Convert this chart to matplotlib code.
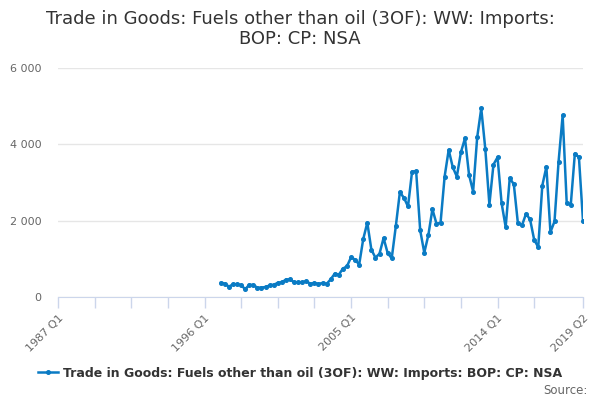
import numpy as np
import matplotlib
matplotlib.use('Agg')
import matplotlib.pyplot as plt

# quarters 1987 Q1 .. 2019 Q2
quarters = [f'{y} Q{q}' for y in range(1987, 2020) for q in range(1, 5)][:130]

# series starts at 1997 Q1 (values in £m)
first_quarter = '1997 Q1'
imports = [
    375, 357, 280, 340, 340, 320, 209, 330, 320, 253,
    253, 270, 310, 330, 375, 393, 462, 470, 393, 393,
    393, 420, 357, 375, 350, 375, 350, 470, 618, 590,
    750, 810, 1045, 985, 855, 1522, 1950, 1245, 1036, 1140,
    1548, 1156, 1018, 1853, 2746, 2600, 2373, 3286, 3294, 1747,
    1166, 1625, 2303, 1922, 1948, 3156, 3852, 3398, 3156, 3790,
    4155, 3200, 2764, 4181, 4937, 3868, 2425, 3469, 3659, 2460,
    1834, 3112, 2955, 1938, 1878, 2182, 2034, 1504, 1312, 2921,
    3408, 1704, 1982, 3547, 4755, 2460, 2425, 3756, 3659, 1990,
]

series_name = 'Trade in Goods: Fuels other than oil (3OF): WW: Imports: BOP: CP: NSA'
title = 'Trade in Goods: Fuels other than oil (3OF): WW: Imports:\nBOP: CP: NSA'
label_quarters = ['1987 Q1', '1996 Q1', '2005 Q1', '2014 Q1', '2019 Q2']
y_ticks = [0, 2000, 4000, 6000]

plt.rcParams['font.family'] = ['DejaVu Sans']
fig = plt.figure(figsize=(6, 4), dpi=100)
ax = fig.add_axes([58 / 600, 1 - 297.3 / 400, 525 / 600, (297.3 - 67.7) / 400])

start = quarters.index(first_quarter)
x = np.arange(start, start + len(imports))
line_col = '#0a7bc4'
ax.plot(x, imports, color=line_col, lw=1.8, marker='o', ms=2.6, label=series_name)

ax.set_xlim(0, len(quarters) - 1)
ax.set_ylim(0, 6000)

# x ticks every 9 quarters plus last
xt = list(range(0, 118, 9)) + [len(quarters) - 1]
ax.set_xticks(xt)
ax.set_xticklabels([quarters[i] if quarters[i] in label_quarters else '' for i in xt],
                   rotation=45, ha='right', rotation_mode='anchor', fontsize=8, color='#666666')
ax.tick_params(axis='x', length=8, color='#ccd6eb', width=1, pad=3)

ax.set_yticks(y_ticks)
ax.set_yticklabels([f'{v:,}'.replace(',', ' ') for v in y_ticks], fontsize=8, color='#666666')
ax.tick_params(axis='y', length=0, pad=12)
ax.grid(axis='y', color='#e6e6e6', lw=1)
ax.set_axisbelow(True)

for s in ['top', 'right', 'left']:
    ax.spines[s].set_visible(False)
ax.spines['bottom'].set_color('#ccd6eb')

fig.suptitle(title, y=0.975, fontsize=13, color='#333333', linespacing=1.15)

leg = fig.legend(loc='center', bbox_to_anchor=(0.5, 1 - 373 / 400), frameon=False,
                 prop={'weight': 'bold', 'size': 9}, handlelength=1.6, handletextpad=0.4)
for t in leg.get_texts():
    t.set_color('#333333')

fig.text(588 / 600, 1 - 390 / 400, 'Source:', ha='right', va='center', fontsize=8.5, color='#666666')

fig.savefig('out.png', dpi=100)
